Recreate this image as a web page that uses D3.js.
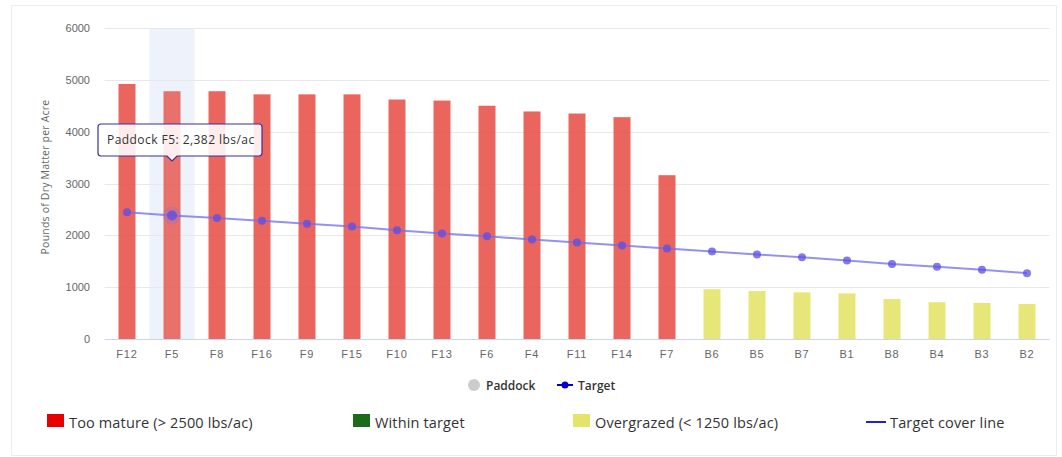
<!DOCTYPE html>
<html>
<head>
<meta charset="utf-8">
<script src="https://cdn.jsdelivr.net/npm/d3@7"></script>
<style>
  html, body { margin: 0; padding: 0; background: #fff; }
  svg { display: block; font-family: "Open Sans", sans-serif; }
</style>
</head>
<body>
<svg id="chart" width="1062" height="457"></svg>
<script>
// Paddock covers, ordered by rotation
const paddocks = ["F12","F5","F8","F16","F9","F15","F10","F13","F6","F4","F11","F14","F7",
                  "B6","B5","B7","B1","B8","B4","B3","B2"];
const cover = [4920,4780,4780,4720,4720,4720,4620,4600,4500,4390,4350,4280,3160,
               960,925,900,880,770,710,695,675];
const target = [2447,2382,2335,2280,2225,2170,2100,2035,1980,1920,1860,1805,1745,
                1690,1630,1575,1515,1445,1395,1335,1270];
const yTicks = [0,1000,2000,3000,4000,5000,6000];
const highlighted = "F5";

const matureLimit = 2500, overgrazedLimit = 1250;
const colorFor = v => v > matureLimit ? "#e8544b" : (v < overgrazedLimit ? "#e4e46a" : "#1b6b1b");

const svg = d3.select("#chart");

// card frame
svg.append("rect").attr("x", 11.5).attr("y", 5.5).attr("width", 1045).attr("height", 450)
  .attr("fill", "#fff").attr("stroke", "#ececec");

const x = d3.scaleBand().domain(paddocks).range([104.5, 1049.5]).paddingInner(0).paddingOuter(0);
const y = d3.scaleLinear().domain([0, 6000]).range([339, 28]);
const barW = 17;

// highlighted category band
svg.append("rect").attr("x", x(highlighted)).attr("y", y(6000))
  .attr("width", x.bandwidth()).attr("height", y(0) - y(6000))
  .attr("fill", "#eef2fb");

// grid
svg.append("g").selectAll("line").data(yTicks.filter(d => d > 0)).join("line")
  .attr("x1", 104.5).attr("x2", 1049.5)
  .attr("y1", d => Math.round(y(d)) + 0.5).attr("y2", d => Math.round(y(d)) + 0.5)
  .attr("stroke", "#e8e8e8");

// y axis labels
const yAxis = d3.axisLeft(y).tickValues(yTicks).tickSize(0).tickPadding(0).tickFormat(d3.format("d"));
const yg = svg.append("g").attr("transform", "translate(90,0)").call(yAxis);
yg.select(".domain").remove();
yg.selectAll("text").attr("fill", "#666").attr("font-size", 11);

// axis title
svg.append("text").attr("transform", "translate(49,177) rotate(-90)")
  .attr("text-anchor", "middle").attr("fill", "#666").attr("font-size", 10.5)
  .attr("letter-spacing", 0.2)
  .text("Pounds of Dry Matter per Acre");

// bars
svg.append("g").selectAll("rect").data(paddocks).join("rect")
  .attr("x", d => x(d) + x.bandwidth() / 2 - barW / 2)
  .attr("y", (d, i) => y(cover[i]))
  .attr("width", barW)
  .attr("height", (d, i) => y(0) - y(cover[i]))
  .attr("fill", (d, i) => colorFor(cover[i]))
  .attr("fill-opacity", (d, i) => d === highlighted ? 0.82 : 0.9);

// x axis
svg.append("line").attr("x1", 104.5).attr("x2", 1049.5).attr("y1", 339.5).attr("y2", 339.5)
  .attr("stroke", "#ccd6eb");
const xAxis = d3.axisBottom(x).tickSize(0).tickPadding(0);
const xg = svg.append("g").attr("transform", "translate(0,350)").call(xAxis);
xg.select(".domain").remove();
xg.selectAll("text").attr("fill", "#666").attr("font-size", 11).attr("letter-spacing", 0.8)
  .attr("dy", "0.75em");

// target line
const cx = d => x(d) + x.bandwidth() / 2;
const line = d3.line().x((d, i) => cx(paddocks[i])).y(d => y(d));
svg.append("path").datum(target).attr("d", line)
  .attr("fill", "none").attr("stroke", "#6f6cf0").attr("stroke-opacity", 0.75).attr("stroke-width", 2);

// hover halo on highlighted point
const hi = paddocks.indexOf(highlighted);
svg.append("circle").attr("cx", cx(highlighted)).attr("cy", y(target[hi])).attr("r", 9)
  .attr("fill", "#8a6fd8").attr("fill-opacity", 0.3);

svg.append("g").selectAll("circle").data(target).join("circle")
  .attr("cx", (d, i) => cx(paddocks[i])).attr("cy", d => y(d))
  .attr("r", (d, i) => i === hi ? 5 : 4)
  .attr("fill", "#5b4ee6").attr("fill-opacity", 0.75);

// tooltip
const tipX = cx(highlighted), tipY = 161;
const tw = 164, th = 32, tl = 98, tt = 124;
const tipPath = `M${tl + 3},${tt} H${tl + tw - 3} Q${tl + tw},${tt} ${tl + tw},${tt + 3} V${tt + th - 3}
  Q${tl + tw},${tt + th} ${tl + tw - 3},${tt + th} H${tipX + 5} L${tipX},${tipY} L${tipX - 5},${tt + th}
  H${tl + 3} Q${tl},${tt + th} ${tl},${tt + th - 3} V${tt + 3} Q${tl},${tt} ${tl + 3},${tt} Z`;
svg.append("path").attr("d", tipPath).attr("fill", "#fff").attr("fill-opacity", 0.88)
  .attr("stroke", "#3a2f9e").attr("stroke-width", 1.2);
svg.append("text").attr("x", tl + 9).attr("y", tt + 20).attr("font-size", 12).attr("fill", "#333")
  .attr("letter-spacing", 0.45)
  .text(`Paddock ${highlighted}: ${d3.format(",")(target[hi])} lbs/ac`);

// series legend
const lg = svg.append("g").attr("font-size", 12).attr("font-weight", 600).attr("fill", "#333");
lg.append("circle").attr("cx", 474).attr("cy", 385).attr("r", 6).attr("fill", "#cccccc");
lg.append("text").attr("x", 486).attr("y", 389.5).text("Paddock");
lg.append("line").attr("x1", 557).attr("x2", 573).attr("y1", 385).attr("y2", 385)
  .attr("stroke", "#0000cc").attr("stroke-width", 2);
lg.append("circle").attr("cx", 565).attr("cy", 385).attr("r", 3.5).attr("fill", "#0000cc");
lg.append("text").attr("x", 578).attr("y", 389.5).text("Target");

// category key
const keyItems = [
  { label: "Too mature (> 2500 lbs/ac)", color: "#e60000", x: 47, type: "box" },
  { label: "Within target", color: "#1b6b1b", x: 353, type: "box" },
  { label: "Overgrazed (< 1250 lbs/ac)", color: "#e4e46a", x: 573, type: "box" },
  { label: "Target cover line", color: "#2222cc", x: 866, type: "line" }
];
const kg = svg.append("g");
keyItems.forEach(k => {
  if (k.type === "box") {
    kg.append("rect").attr("x", k.x).attr("y", 414).attr("width", 17).attr("height", 13).attr("fill", k.color);
  } else {
    kg.append("line").attr("x1", k.x).attr("x2", k.x + 20).attr("y1", 422).attr("y2", 422)
      .attr("stroke", k.color).attr("stroke-width", 2);
  }
  kg.append("text").attr("x", k.x + (k.type === "box" ? 22 : 24)).attr("y", 427.5)
    .attr("font-size", 14.5).attr("fill", "#333").attr("letter-spacing", 0.15).text(k.label);
});
</script>
</body>
</html>
